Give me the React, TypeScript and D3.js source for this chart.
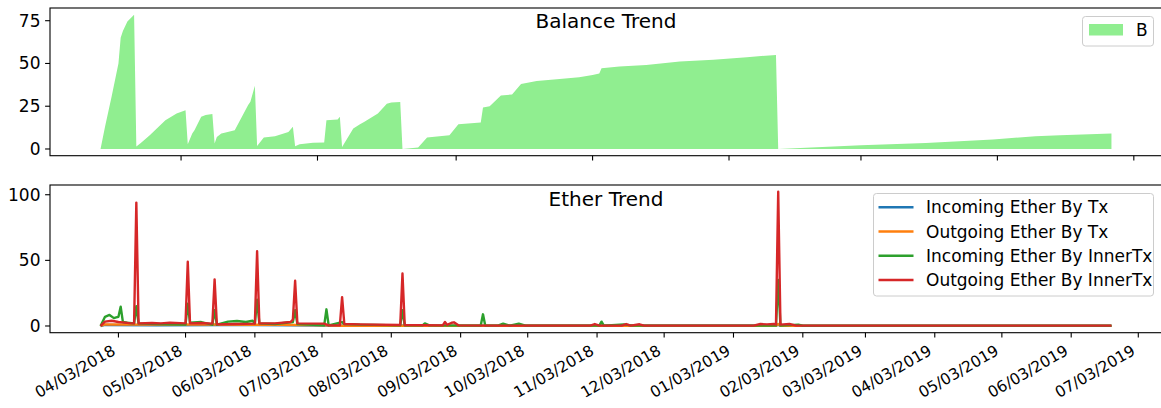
import React from 'react';
import * as d3 from 'd3';

// balance (top panel)
const balanceDates = [
  '2018-03-26', '2018-03-28', '2018-03-31', '2018-04-03', '2018-04-04', '2018-04-05', '2018-04-07', '2018-04-10',
  '2018-04-11', '2018-04-13', '2018-04-17', '2018-04-24', '2018-04-29', '2018-05-03', '2018-05-04', '2018-05-06',
  '2018-05-07', '2018-05-10', '2018-05-12', '2018-05-15', '2018-05-16', '2018-05-17', '2018-05-19', '2018-05-20',
  '2018-05-25', '2018-05-31', '2018-06-01', '2018-06-03', '2018-06-04', '2018-06-07', '2018-06-12', '2018-06-18',
  '2018-06-20', '2018-06-21', '2018-06-23', '2018-06-29', '2018-07-04', '2018-07-05', '2018-07-10', '2018-07-11',
  '2018-07-12', '2018-07-17', '2018-07-20', '2018-07-22', '2018-07-28', '2018-08-01', '2018-08-03', '2018-08-07',
  '2018-08-08', '2018-08-15', '2018-08-19', '2018-08-29', '2018-09-02', '2018-09-12', '2018-09-13', '2018-09-16',
  '2018-09-21', '2018-09-26', '2018-09-30', '2018-10-07', '2018-10-16', '2018-10-26', '2018-11-01', '2018-11-04',
  '2018-11-05', '2018-11-13', '2018-11-25', '2018-12-10', '2018-12-25', '2019-01-09', '2019-01-22', '2019-01-23',
  '2019-03-01', '2019-03-30', '2019-04-29', '2019-05-18', '2019-05-29', '2019-06-21',
];
const balanceValues = [
  0, 13, 31, 50, 65, 69, 74.5, 78.5,
  1.5, 3.5, 8, 16.8, 20.8, 22.7, 2.8, 9,
  11, 18.8, 19.8, 20.5, 3.2, 7, 9, 9.3,
  11, 25.7, 27.6, 37, 1.8, 6.7, 7.5, 10,
  13, 1.6, 2.8, 3.6, 3.8, 16.8, 17.2, 18.8,
  1.2, 12, 14.5, 15.9, 20.8, 26.5, 27.2, 27.5,
  0, 0.8, 6.7, 8, 14.5, 15.5, 24.3, 25,
  31.2, 31.9, 38, 39.8, 40.8, 41.9, 43.3, 44.2,
  47.2, 48.2, 49.1, 51.1, 52.1, 53.7, 55, 0,
  2.2, 3.5, 5.5, 7.5, 8, 9,
];

// ether series (bottom panel)
const incomingTx: [string, number][] = [
  ['2018-03-26', 0], ['2018-03-28', 0.8], ['2018-04-20', 0.6], ['2018-05-20', 0.8], ['2018-06-20', 0.5],
  ['2018-07-05', 0.3], ['2018-09-01', 0.2], ['2019-01-22', 0.2], ['2019-01-23', 1], ['2019-01-24', 0.1],
  ['2019-06-21', 0.1],
];
const outgoingTx: [string, number][] = [
  ['2018-03-26', 0], ['2018-03-28', 1.2], ['2018-04-15', 1], ['2018-05-15', 1.1], ['2018-06-15', 0.9],
  ['2018-07-05', 0.5], ['2018-07-12', 0.2], ['2018-09-01', 0.2], ['2019-01-22', 0.1], ['2019-01-23', 1.5],
  ['2019-01-24', 0.1], ['2019-06-21', 0.1],
];
const incomingInner: [string, number][] = [
  ['2018-03-26', 0], ['2018-03-28', 7], ['2018-03-30', 8.4], ['2018-04-01', 6], ['2018-04-02', 6.5],
  ['2018-04-03', 7], ['2018-04-04', 14.7], ['2018-04-05', 3], ['2018-04-07', 2.5], ['2018-04-10', 2],
  ['2018-04-11', 15], ['2018-04-12', 2], ['2018-04-20', 1.5], ['2018-05-03', 1], ['2018-05-04', 17],
  ['2018-05-05', 2.5], ['2018-05-10', 3], ['2018-05-15', 1], ['2018-05-16', 12], ['2018-05-17', 1],
  ['2018-05-22', 3.3], ['2018-05-26', 3.8], ['2018-05-30', 3], ['2018-06-02', 4], ['2018-06-03', 2],
  ['2018-06-04', 20], ['2018-06-05', 2], ['2018-06-12', 1.5], ['2018-06-20', 3], ['2018-06-21', 12],
  ['2018-06-22', 1.5], ['2018-07-04', 0.5], ['2018-07-05', 12.7], ['2018-07-06', 0.5], ['2018-07-12', 3],
  ['2018-07-13', 1.5], ['2018-07-20', 1], ['2018-08-07', 0.5], ['2018-08-08', 12], ['2018-08-09', 0.5],
  ['2018-08-17', 0.5], ['2018-08-18', 2], ['2018-08-20', 0.5], ['2018-09-12', 0.3], ['2018-09-13', 8.9],
  ['2018-09-14', 0.3], ['2018-09-20', 0.5], ['2018-09-22', 1.8], ['2018-09-25', 0.3], ['2018-09-29', 1.8],
  ['2018-10-02', 0.3], ['2018-11-04', 0.3], ['2018-11-05', 3.3], ['2018-11-06', 0.3], ['2018-11-15', 1.2],
  ['2018-11-19', 0.3], ['2019-01-22', 0.3], ['2019-01-23', 35], ['2019-01-24', 0.3], ['2019-02-01', 1],
  ['2019-02-03', 0.2], ['2019-06-21', 0.2],
];
const outgoingInner: [string, number][] = [
  ['2018-03-26', 0], ['2018-03-28', 3.3], ['2018-03-31', 4], ['2018-04-03', 3], ['2018-04-08', 2.2],
  ['2018-04-10', 2], ['2018-04-11', 94], ['2018-04-12', 2], ['2018-04-18', 2.3], ['2018-04-22', 2],
  ['2018-04-26', 2.5], ['2018-05-03', 2], ['2018-05-04', 49], ['2018-05-05', 2], ['2018-05-10', 2.3],
  ['2018-05-15', 1.8], ['2018-05-16', 35.5], ['2018-05-17', 1.2], ['2018-05-25', 1.5], ['2018-06-03', 1.8],
  ['2018-06-04', 57], ['2018-06-05', 2], ['2018-06-12', 2], ['2018-06-19', 3], ['2018-06-20', 5],
  ['2018-06-21', 34.5], ['2018-06-22', 2], ['2018-07-04', 1.8], ['2018-07-06', 0.5], ['2018-07-11', 0.5],
  ['2018-07-12', 22], ['2018-07-13', 1.5], ['2018-07-20', 1.2], ['2018-08-07', 0.8], ['2018-08-08', 40],
  ['2018-08-09', 0.8], ['2018-08-26', 0.5], ['2018-08-27', 3], ['2018-08-28', 0.8], ['2018-08-30', 2.5],
  ['2018-08-31', 2.8], ['2018-09-02', 0.5], ['2018-09-20', 0.3], ['2018-10-31', 0.3], ['2018-11-02', 1.5],
  ['2018-11-04', 0.3], ['2018-11-14', 0.3], ['2018-11-16', 1.5], ['2018-11-18', 0.3], ['2018-11-22', 1.3],
  ['2018-11-24', 0.3], ['2019-01-12', 0.3], ['2019-01-15', 1.5], ['2019-01-18', 1.2], ['2019-01-21', 1.5],
  ['2019-01-22', 1], ['2019-01-23', 102.3], ['2019-01-24', 1], ['2019-01-28', 1.5], ['2019-01-31', 0.3],
  ['2019-06-21', 0.3],
];

const etherSeries = [
  { name: 'Incoming Ether By Tx', color: '#1f77b4', data: incomingTx },
  { name: 'Outgoing Ether By Tx', color: '#ff7f0e', data: outgoingTx },
  { name: 'Incoming Ether By InnerTx', color: '#2ca02c', data: incomingInner },
  { name: 'Outgoing Ether By InnerTx', color: '#d62728', data: outgoingInner },
];

const balanceTicks = [0, 25, 50, 75];
const etherTicks = [0, 50, 100];
const topTickDates = ['2018-05-01', '2018-07-01', '2018-09-01', '2018-11-01', '2019-01-01', '2019-03-01', '2019-05-01', '2019-07-01'];
const bottomTickDates = [
  '2018-04-03', '2018-05-03', '2018-06-03', '2018-07-03', '2018-08-03', '2018-09-03', '2018-10-03', '2018-11-03',
  '2018-12-03', '2019-01-03', '2019-02-03', '2019-03-03', '2019-04-03', '2019-05-03', '2019-06-03', '2019-07-03',
];

const parse = d3.utcParse('%Y-%m-%d');
const fmt = d3.utcFormat('%m/%d/%Y');
const FONT = 'DejaVu Sans, sans-serif';

const W = 1161;
const H = 408;
const left = 50;
const right = 1162;
const top1 = 8;
const bot1 = 155.7;
const top2 = 185;
const bot2 = 332.7;

function pad(lo: number, hi: number) {
  const m = (hi - lo) * 0.05;
  return [lo - m, hi + m];
}

export default function App() {
  const bDates = balanceDates.map((d) => parse(d) as Date);
  const allDates = bDates.concat(...etherSeries.map((s) => s.data.map((p) => parse(p[0]) as Date)));
  const [t0, t1] = d3.extent(allDates) as [Date, Date];
  const [p0, p1] = pad(+t0, +t1);
  const x = d3.scaleUtc().domain([new Date(p0), new Date(p1)]).range([left, right]);

  const yB = d3.scaleLinear().domain(pad(0, d3.max(balanceValues) as number)).range([bot1, top1]);
  const etherMax = d3.max(etherSeries, (s) => d3.max(s.data, (p) => p[1])) as number;
  const yE = d3.scaleLinear().domain(pad(0, etherMax)).range([bot2, top2]);

  const area = d3
    .area<number>()
    .x((_, i) => x(bDates[i]))
    .y0(yB(0))
    .y1((d) => yB(d));

  const line = d3
    .line<[string, number]>()
    .x((d) => x(parse(d[0]) as Date))
    .y((d) => yE(d[1]));

  return (
    <svg width={W} height={H} style={{ position: 'absolute', left: 0, top: 0, background: '#fff' }} fontFamily={FONT}>
      <defs>
        <clipPath id="c1"><rect x={left} y={top1} width={right - left} height={bot1 - top1} /></clipPath>
        <clipPath id="c2"><rect x={left} y={top2} width={right - left} height={bot2 - top2} /></clipPath>
      </defs>

      {/* Balance panel */}
      <path d={area(balanceValues) || ''} fill="#90ee90" clipPath="url(#c1)" />
      <rect x={left} y={top1} width={right - left} height={bot1 - top1} fill="none" stroke="#000" strokeWidth={1.1} />
      {balanceTicks.map((t) => (
        <g key={t}>
          <line x1={left - 4.9} x2={left} y1={yB(t)} y2={yB(t)} stroke="#000" strokeWidth={1.1} />
          <text x={left - 9.5} y={yB(t)} dy="0.35em" textAnchor="end" fontSize={17}>{t}</text>
        </g>
      ))}
      {topTickDates.map((d) => (
        <line key={d} x1={x(parse(d) as Date)} x2={x(parse(d) as Date)} y1={bot1} y2={bot1 + 4.9} stroke="#000" strokeWidth={1.1} />
      ))}
      <text x={(left + right) / 2} y={28} textAnchor="middle" fontSize={20}>Balance Trend</text>
      <g>
        <rect x={1082.5} y={16.5} width={71} height={29.5} rx={3} fill="#fff" fillOpacity={0.8} stroke="#cccccc" strokeWidth={1} />
        <rect x={1089} y={24} width={34} height={11.5} fill="#90ee90" />
        <text x={1136} y={30} dy="0.35em" fontSize={17}>B</text>
      </g>

      {/* Ether panel */}
      <g clipPath="url(#c2)">
        {etherSeries.map((s) => (
          <path key={s.name} d={line(s.data) || ''} fill="none" stroke={s.color} strokeWidth={2.4} strokeLinejoin="round" />
        ))}
      </g>
      <rect x={left} y={top2} width={right - left} height={bot2 - top2} fill="none" stroke="#000" strokeWidth={1.1} />
      {etherTicks.map((t) => (
        <g key={t}>
          <line x1={left - 4.9} x2={left} y1={yE(t)} y2={yE(t)} stroke="#000" strokeWidth={1.1} />
          <text x={left - 9.5} y={yE(t)} dy="0.35em" textAnchor="end" fontSize={17}>{t}</text>
        </g>
      ))}
      {bottomTickDates.map((d) => {
        const tx = x(parse(d) as Date);
        return (
          <g key={d}>
            <line x1={tx} x2={tx} y1={bot2} y2={bot2 + 4.9} stroke="#000" strokeWidth={1.1} />
            <text transform={`translate(${tx - 2},${bot2 + 21}) rotate(-30)`} textAnchor="end" fontSize={15.5}>
              {fmt(parse(d) as Date)}
            </text>
          </g>
        );
      })}
      <text x={(left + right) / 2} y={205.5} textAnchor="middle" fontSize={20}>Ether Trend</text>
      <g>
        <rect x={873.5} y={193.5} width={280} height={102.5} rx={3} fill="#fff" fillOpacity={0.8} stroke="#cccccc" strokeWidth={1} />
        {etherSeries.map((s, i) => {
          const cy = 207.3 + i * 24.25;
          return (
            <g key={s.name}>
              <line x1={878.5} x2={913.5} y1={cy} y2={cy} stroke={s.color} strokeWidth={2.4} />
              <text x={926} y={cy} dy="0.35em" fontSize={17}>{s.name}</text>
            </g>
          );
        })}
      </g>
    </svg>
  );
}
